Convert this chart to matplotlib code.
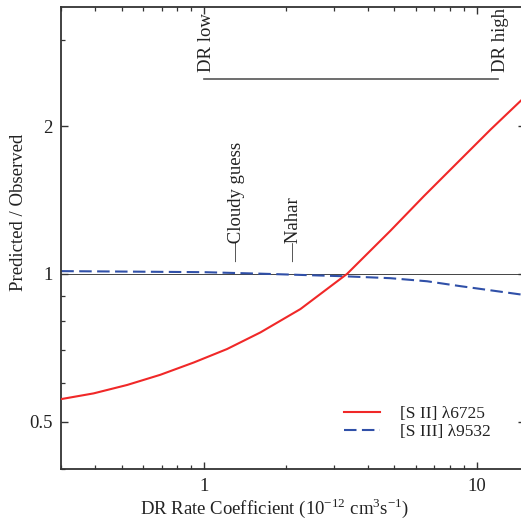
import matplotlib
matplotlib.use("Agg")
import matplotlib.pyplot as plt
from matplotlib.ticker import FixedLocator, NullFormatter, FixedFormatter

plt.rcParams['font.family'] = ['Liberation Serif', 'DejaVu Serif']
plt.rcParams['mathtext.fontset'] = 'custom'
plt.rcParams['mathtext.rm'] = 'Liberation Serif'

# DR rate coefficient (1e-12 cm^3 s^-1) and predicted/observed ratios
rate_s2 = [0.30, 0.394, 0.523, 0.692, 0.918, 1.216, 1.612, 2.26, 3.35,
           4.83, 6.41, 8.50, 11.26, 14.5, 15.0]
ratio_s2 = [0.556, 0.571, 0.594, 0.623, 0.660, 0.703, 0.760, 0.848, 1.0,
            1.224, 1.440, 1.684, 1.968, 2.250, 2.29]

rate_s3 = [0.30, 0.636, 1.0, 1.61, 3.25, 4.83, 6.58, 8.73, 11.55, 14.5, 15.0]
ratio_s3 = [1.013, 1.010, 1.008, 1.001, 0.989, 0.980, 0.966, 0.944, 0.924, 0.908, 0.906]

label_s2 = "[S II] λ6725"
label_s3 = "[S III] λ9532"

dr_low, dr_high = 1.0, 12.0
cloudy_guess = 1.29
nahar = 2.08

y_major = [0.5, 1, 2]
y_major_labels = ["0.5", "1", "2"]
y_minor = [0.4, 0.6, 0.7, 0.8, 0.9, 3]
x_major = [1, 10]
x_major_labels = ["1", "10"]
x_minor = [0.3, 0.4, 0.5, 0.6, 0.7, 0.8, 0.9, 2, 3, 4, 5, 6, 7, 8, 9]

W, H = 521, 520
fig = plt.figure(figsize=(W / 100, H / 100), dpi=100)
left, right, bottom, top = 61.3, 524.6, 469.3, 6.7
ax = fig.add_axes([left / W, 1 - bottom / H, (right - left) / W, (bottom - top) / H])

ax.set_xscale('log')
ax.set_yscale('log')
ax.set_xlim(0.3, 15)
ax.set_ylim(0.4, 3.5)

ax.axhline(1.0, color='0.15', lw=0.6, zorder=1)
ax.plot(rate_s2, ratio_s2, color='#f02828', lw=1.5, label=label_s2, zorder=3)
ax.plot(rate_s3, ratio_s3, color='#3050a8', lw=1.5, ls=(0, (6, 2.6)), label=label_s3, zorder=2)

ax.xaxis.set_major_locator(FixedLocator(x_major))
ax.xaxis.set_major_formatter(FixedFormatter(x_major_labels))
ax.xaxis.set_minor_locator(FixedLocator(x_minor))
ax.xaxis.set_minor_formatter(NullFormatter())
ax.yaxis.set_major_locator(FixedLocator(y_major))
ax.yaxis.set_major_formatter(FixedFormatter(y_major_labels))
ax.yaxis.set_minor_locator(FixedLocator(y_minor))
ax.yaxis.set_minor_formatter(NullFormatter())

ax.tick_params(which='both', direction='in', top=True, right=True,
               colors='#333333', labelcolor='#222222', labelsize=13.5)
ax.tick_params(which='major', length=5, width=1.0, pad=6)
ax.tick_params(which='minor', length=3, width=0.9)
for s in ax.spines.values():
    s.set_color('#333333')
    s.set_linewidth(1.3)

ax.set_xlabel(r"DR Rate Coefficient (10$^{\mathregular{-12}}$ cm$^{\mathregular{3}}$s$^{\mathregular{-1}}$)",
              fontsize=13.5, color='#222222')
ax.set_ylabel("Predicted / Observed", fontsize=13.5, color='#222222')
ax.xaxis.set_label_coords((275 - left) / (right - left), -0.058)
ax.yaxis.set_label_coords(-0.073, (bottom - 212) / (bottom - top))

# DR range bracket
yb = (bottom - 79) / (bottom - top)
ax.plot([dr_low, dr_high], [yb, yb], color='#555555', lw=1.2,
        transform=ax.get_xaxis_transform(), clip_on=False)
yt = (bottom - 72) / (bottom - top)
for xv, txt in [(dr_low, "DR low"), (dr_high, "DR high")]:
    ax.annotate(txt, xy=(xv, yt), xycoords=ax.get_xaxis_transform(),
                xytext=(2, 0), textcoords='offset points',
                rotation=90, ha='center', va='bottom', fontsize=13.5, color='#222222')

# Rate coefficient markers
ym = (bottom - 262) / (bottom - top)
for xv, txt in [(cloudy_guess, "—Cloudy guess"), (nahar, "—Nahar")]:
    ax.annotate(txt, xy=(xv, ym), xycoords=ax.get_xaxis_transform(),
                xytext=(2, 0), textcoords='offset points',
                rotation=90, ha='center', va='bottom', fontsize=13.5, color='#222222')

leg = ax.legend(loc='lower right', bbox_to_anchor=((491 - left) / (right - left), (bottom - 440) / (bottom - top)),
                frameon=False, fontsize=12.5, handlelength=2.07, handletextpad=1.15,
                labelspacing=0.1, borderpad=0, borderaxespad=0)
for t in leg.get_texts():
    t.set_color('#222222')

fig.savefig("out.png", dpi=100)
